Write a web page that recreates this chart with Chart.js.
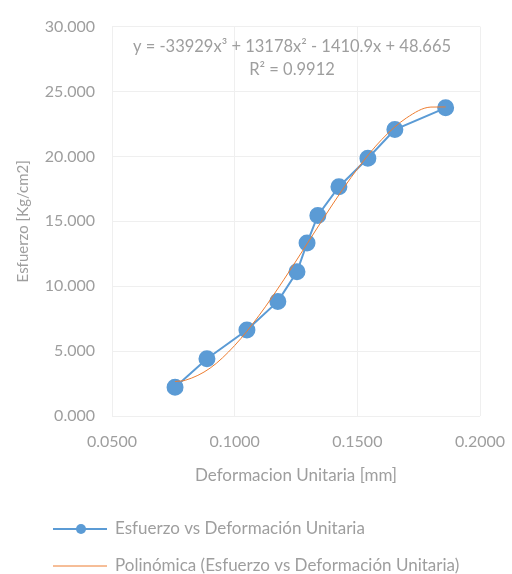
<!DOCTYPE html>
<html>
<head>
<meta charset="utf-8">
<script src="https://cdn.jsdelivr.net/npm/chart.js@4/dist/chart.umd.min.js"></script>
<style>
  html, body { margin: 0; padding: 0; background: #ffffff; }
  #wrap { width: 512px; height: 574px; }
</style>
</head>
<body>
<div id="wrap"><canvas id="plot" width="512" height="574"></canvas></div>
<script>
// deformacion unitaria / esfuerzo
const strain = [0.0757, 0.0887, 0.1050, 0.1176, 0.1254, 0.1295, 0.1339, 0.1425, 0.1543, 0.1653, 0.1860];
const stress = [2.21, 4.41, 6.62, 8.83, 11.11, 13.32, 15.45, 17.66, 19.86, 22.07, 23.74];

// trend curve samples (read along the drawn polynomial)
const trendX = [0.0757, 0.080, 0.090, 0.100, 0.110, 0.120, 0.130, 0.140, 0.150, 0.160, 0.170, 0.180, 0.186];
const trendY = [2.66, 2.76, 3.69, 5.43, 7.76, 10.49, 13.41, 16.33, 19.03, 21.31, 22.96, 23.80, 23.81];

const seriesNames = ["Esfuerzo vs Deformación Unitaria", "Polinómica (Esfuerzo vs Deformación Unitaria)"];
const eqLines = ["y = -33929x³ + 13178x² - 1410.9x + 48.665", "R² = 0.9912"];

const BLUE = "#5B9BD5";
const ORANGE = "#ED7D31";
const TXT = "#9e9e9e";
const FONT = "Lato";

Chart.defaults.font.family = FONT;
Chart.defaults.color = TXT;

// equation + legend drawn straight on the canvas
const extras = {
    id: "extras",
    afterDraw: (chart) => {
        const {ctx, chartArea} = chart;
        ctx.save();
        ctx.fillStyle = TXT;
        ctx.font = "16.5px " + FONT;
        ctx.textAlign = "center";
        ctx.textBaseline = "middle";
        let cx = (chartArea.left + chartArea.right) / 2 - 4;
        ctx.fillText(eqLines[0], cx, 47);
        ctx.fillText(eqLines[1], cx, 70);

        // legend
        ctx.textAlign = "left";
        let lx = 53, rows = [529, 566];
        // series 1
        ctx.strokeStyle = BLUE;
        ctx.lineWidth = 2;
        ctx.beginPath(); ctx.moveTo(lx, rows[0]); ctx.lineTo(lx + 54, rows[0]); ctx.stroke();
        ctx.fillStyle = BLUE;
        ctx.beginPath(); ctx.arc(lx + 28, rows[0], 5, 0, Math.PI * 2); ctx.fill();
        // series 2
        ctx.strokeStyle = ORANGE;
        ctx.lineWidth = 1;
        ctx.beginPath(); ctx.moveTo(lx, rows[1]); ctx.lineTo(lx + 54, rows[1]); ctx.stroke();

        ctx.fillStyle = TXT;
        ctx.font = "17px " + FONT;
        ctx.fillText(seriesNames[0], lx + 62, rows[0]);
        ctx.fillText(seriesNames[1], lx + 62, rows[1]);
        ctx.restore();
    }
};

let config = {
    type: "scatter",
    data: {
        datasets: [
            {
                label: seriesNames[0],
                data: strain.map((x, i) => ({x: x, y: stress[i]})),
                showLine: true,
                borderColor: BLUE,
                backgroundColor: BLUE,
                borderWidth: 2,
                pointRadius: 7.5,
                pointHoverRadius: 7.5,
                order: 1
            },
            {
                label: seriesNames[1],
                data: trendX.map((x, i) => ({x: x, y: trendY[i]})),
                showLine: true,
                borderColor: ORANGE,
                borderWidth: 1,
                pointRadius: 0,
                cubicInterpolationMode: "monotone",
                order: 0
            }
        ]
    },
    options: {
        responsive: false,
        animation: false,
        layout: { padding: { top: 22, right: 32, bottom: 84, left: 0 } },
        plugins: {
            legend: { display: false },
            tooltip: { enabled: false }
        },
        scales: {
            x: {
                type: "linear",
                min: 0.05, max: 0.2,
                grid: { color: "#efefef", drawTicks: false },
                border: { display: false },
                ticks: {
                    stepSize: 0.05,
                    padding: 16,
                    font: { size: 16 },
                    callback: (v) => v.toFixed(4)
                },
                title: {
                    display: true,
                    text: "Deformacion Unitaria [mm]",
                    font: { size: 17 },
                    padding: { top: 6 }
                },
                afterFit: (s) => { s.height = 74; s.paddingLeft = 0; s.paddingRight = 0; }
            },
            y: {
                min: 0, max: 30,
                grid: { color: "#efefef", drawTicks: false },
                border: { display: false },
                ticks: {
                    stepSize: 5,
                    padding: 17,
                    font: { size: 16 },
                    callback: (v) => v.toFixed(3)
                },
                title: {
                    display: true,
                    text: "Esfuerzo [Kg/cm2]",
                    font: { size: 15 },
                    padding: { top: 14, bottom: 4 }
                },
                afterFit: (s) => { s.width = 112; }
            }
        }
    },
    plugins: [extras]
};

new Chart(document.getElementById("plot"), config);
</script>
</body>
</html>
